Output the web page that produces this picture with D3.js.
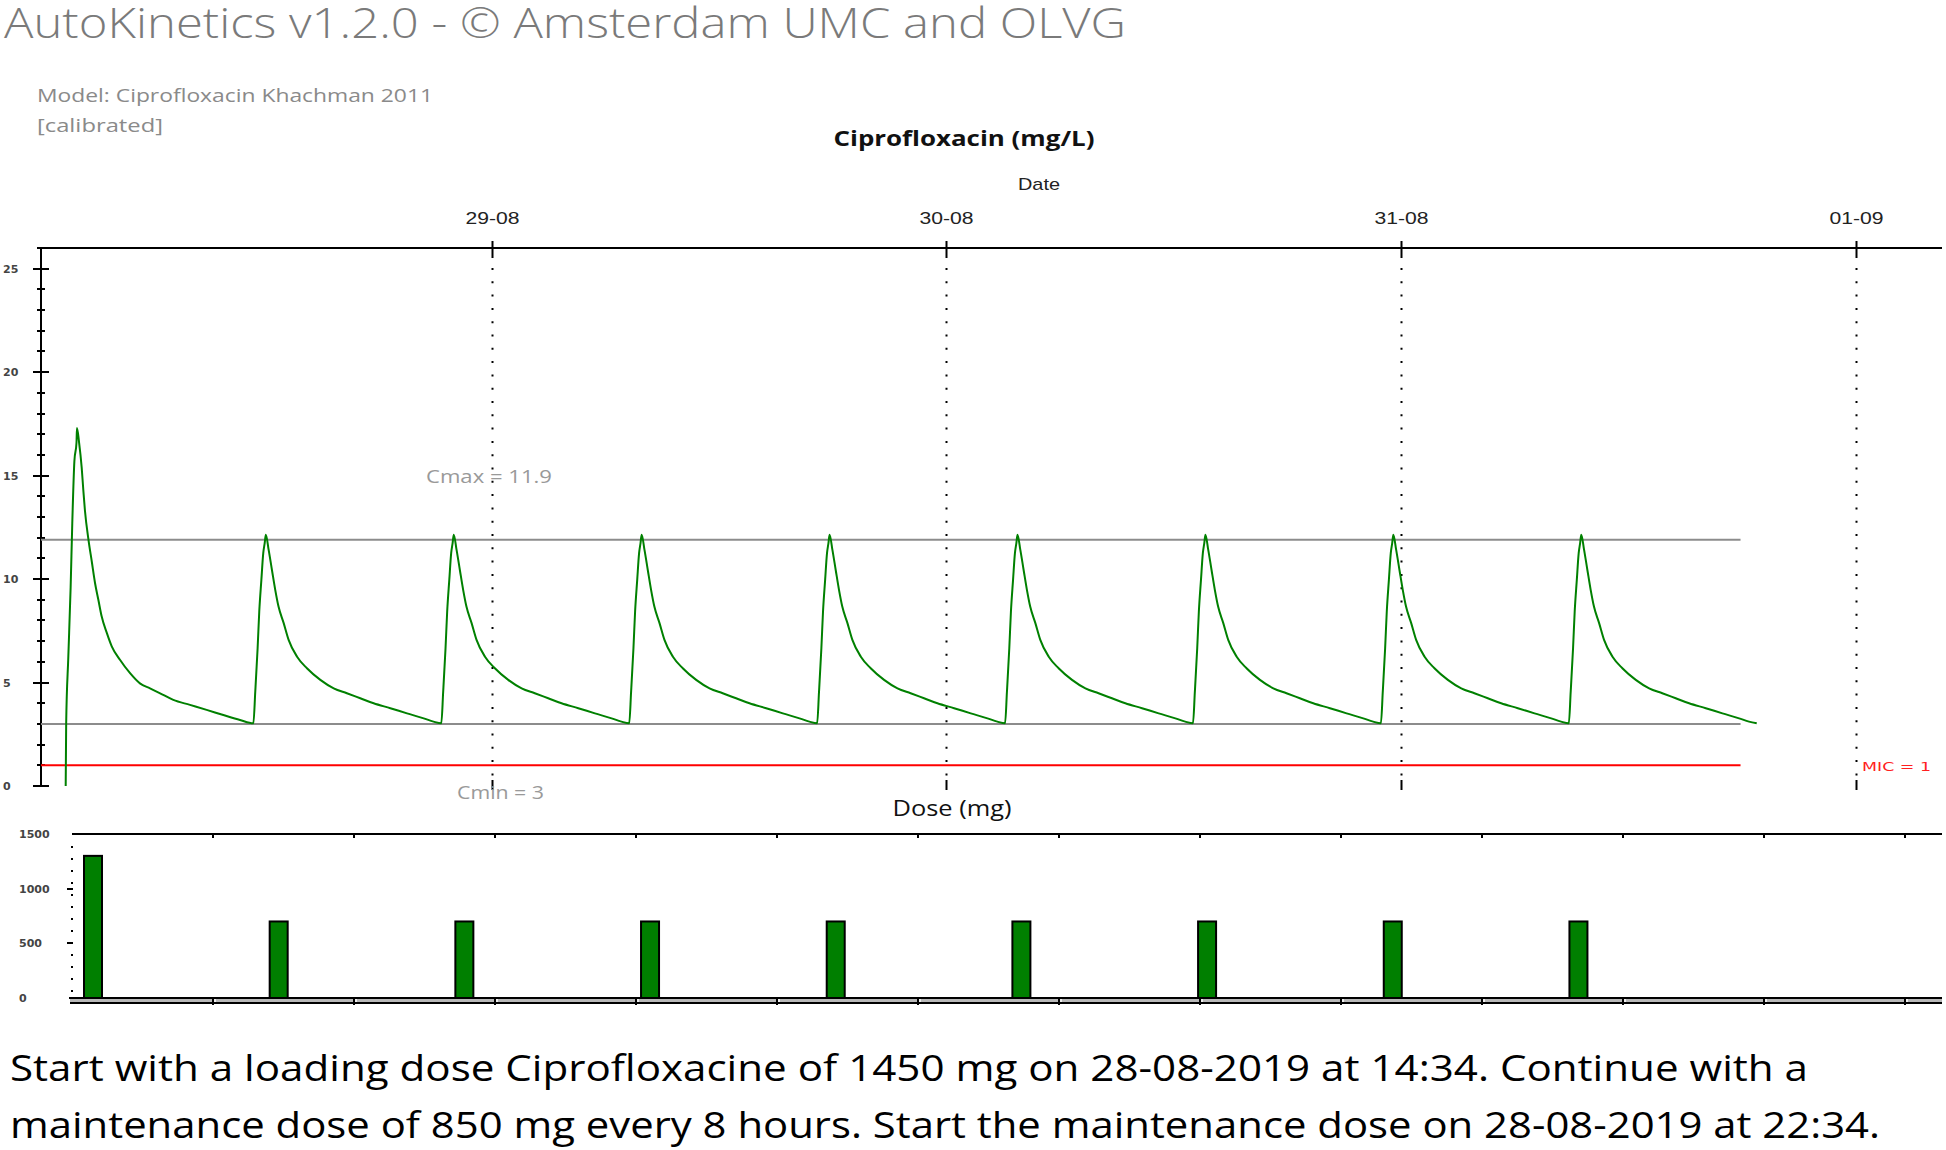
<!DOCTYPE html>
<html>
<head>
<meta charset="utf-8">
<script src="https://cdn.jsdelivr.net/npm/d3@7/dist/d3.min.js"></script>
<style>
  html, body { margin: 0; padding: 0; background: #fff; }
  svg { display: block; }
</style>
</head>
<body>
<svg id="chart" width="1946" height="1150"></svg>
<script>
// ---------------- DATA ----------------
// Dose administration times (hours after the loading dose) and amounts (mg, bar heights as drawn)
const doseHours = [0, 8, 16, 24, 32, 40, 48, 56, 64];
const doseAmounts = [1300, 700, 700, 700, 700, 700, 700, 700, 700];

// Loading-dose concentration profile: hours after dose start, mg/L
const loadingHours = [0, 0.02, 0.11, 0.21, 0.28, 0.37, 0.46, 0.48, 0.57, 0.68, 0.75, 0.82, 0.97, 1.11, 1.25, 1.39, 1.53, 1.75, 1.96, 2.31, 2.74, 3.16, 3.59, 4.02, 4.58, 5.29, 6.00, 6.71, 7.42, 7.99];
const loadingConc  = [0, 3.0, 6.2, 9.6, 12.7, 15.7, 16.6, 17.3, 16.6, 15.4, 14.3, 13.3, 11.9, 10.85, 9.8, 9.0, 8.2, 7.4, 6.75, 6.1, 5.45, 4.96, 4.72, 4.48, 4.16, 3.92, 3.68, 3.43, 3.19, 3.03];

// Maintenance-dose concentration profile (one 8 h interval, identical in the picture for every dose)
const maintHours = [0, 0.07, 0.17, 0.24, 0.33, 0.41, 0.47, 0.52, 0.64, 0.78, 0.92, 1.06, 1.28, 1.49, 1.85, 2.27, 2.84, 3.41, 3.97, 4.54, 5.11, 5.82, 6.53, 7.24, 7.66, 7.99];
const maintConc  = [3.03, 4.56, 6.66, 8.43, 9.96, 11.25, 11.73, 12.14, 11.41, 10.44, 9.48, 8.67, 7.87, 7.06, 6.25, 5.69, 5.13, 4.72, 4.48, 4.24, 4.0, 3.76, 3.51, 3.27, 3.11, 3.03];

// Reference levels (mg/L)
const cmax = 11.9;
const cmin = 3;
const mic = 1;

// Date axis tick labels and their positions on the time axis (hours), as drawn
const dateTickLabels = ["29-08", "30-08", "31-08", "01-09"];
const dateTickHours  = [18.13, 37.47, 56.85, 76.22];

// Concentration axis ticks
const concMajorTicks = [0, 5, 10, 15, 20, 25];
const concMinorTicks = d3.range(0, 26, 1);
// Dose axis ticks
const doseTickLabels = [0, 500, 1000, 1500];

// Texts
const titleText = "AutoKinetics v1.2.0 - \u00A9 Amsterdam UMC and OLVG";
const modelText = ["Model: Ciprofloxacin Khachman 2011", "[calibrated]"];
const concTitle = "Ciprofloxacin (mg/L)";
const dateTitle = "Date";
const doseTitle = "Dose (mg)";
const adviceLines = [
  "Start with a loading dose Ciprofloxacine of 1450 mg on 28-08-2019 at 14:34. Continue with a",
  "maintenance dose of 850 mg every 8 hours. Start the maintenance dose on 28-08-2019 at 22:34."
];

// ---------------- LAYOUT ----------------
const svg = d3.select("#chart");

const upper = { left: 41, right: 1942, top: 248, bottom: 786, lineEndHour: 71.3 };
const lower = { left: 72, right: 1942, top: 834, bottom: 998 };

// Upper time scale (hours after first dose)
const xU = d3.scaleLinear().domain([0, 72]).range([65.7, 65.7 + 23.49 * 72]);
const yU = d3.scaleLinear().domain([0, 26]).range([upper.bottom, upper.top]);

// Lower time scale
const xL = d3.scaleLinear().domain([0, 64]).range([93, 93 + 23.21 * 64]);
const yL = d3.scaleLinear().domain([0, 1500]).range([lower.bottom, lower.top]);

function fit(sel, width) {
  sel.attr("textLength", width).attr("lengthAdjust", "spacingAndGlyphs");
  return sel;
}

// ---------------- TITLES ----------------
fit(svg.append("text").attr("x", 4).attr("y", 38)
  .attr("font-family", "'Open Sans', 'Noto Sans', sans-serif").attr("font-weight", 300)
  .attr("font-size", 42).attr("fill", "#7a7a7a").text(titleText), 1122);

fit(svg.append("text").attr("x", 37).attr("y", 102)
  .attr("font-family", "'Open Sans', sans-serif").attr("font-size", 18)
  .attr("fill", "#8a8a8a").text(modelText[0]), 396);
fit(svg.append("text").attr("x", 37).attr("y", 132)
  .attr("font-family", "'Open Sans', sans-serif").attr("font-size", 18)
  .attr("fill", "#8a8a8a").text(modelText[1]), 126);

fit(svg.append("text").attr("x", 964).attr("y", 146).attr("text-anchor", "middle")
  .attr("font-family", "'Open Sans', sans-serif").attr("font-weight", 700)
  .attr("font-size", 22).attr("fill", "#111").text(concTitle), 261);

fit(svg.append("text").attr("x", 1039).attr("y", 190).attr("text-anchor", "middle")
  .attr("font-family", "'Liberation Sans', Arial, sans-serif").attr("font-size", 17)
  .attr("fill", "#222").text(dateTitle), 42);

// ---------------- UPPER CHART ----------------
const gU = svg.append("g");

// top date axis line
gU.append("line").attr("x1", 37).attr("x2", upper.right)
  .attr("y1", upper.top).attr("y2", upper.top)
  .attr("stroke", "#000").attr("stroke-width", 2);

// date ticks, labels, dotted grid
dateTickHours.forEach((h, i) => {
  const x = Math.round(xU(h)) + 0.5;
  gU.append("line").attr("x1", x).attr("x2", x).attr("y1", upper.top - 7).attr("y2", upper.top + 10)
    .attr("stroke", "#000").attr("stroke-width", 2);
  gU.append("line").attr("x1", x).attr("x2", x).attr("y1", upper.top + 20).attr("y2", upper.bottom - 8)
    .attr("stroke", "#000").attr("stroke-width", 2).attr("stroke-dasharray", "2,11.3");
  gU.append("line").attr("x1", x).attr("x2", x).attr("y1", upper.bottom - 6).attr("y2", upper.bottom + 4)
    .attr("stroke", "#000").attr("stroke-width", 2);
  fit(gU.append("text").attr("x", x).attr("y", 224).attr("text-anchor", "middle")
    .attr("font-family", "'Liberation Sans', Arial, sans-serif").attr("font-size", 17)
    .attr("fill", "#222").text(dateTickLabels[i]), 54);
});

// left concentration axis
gU.append("line").attr("x1", upper.left).attr("x2", upper.left)
  .attr("y1", upper.top).attr("y2", yU(0))
  .attr("stroke", "#000").attr("stroke-width", 2);
concMinorTicks.forEach(v => {
  const major = concMajorTicks.includes(v);
  const y = Math.round(yU(v));
  gU.append("line").attr("x1", upper.left - (major ? 8 : 4)).attr("x2", upper.left + (major ? 8 : 4))
    .attr("y1", y).attr("y2", y).attr("stroke", "#000").attr("stroke-width", 2);
});
concMajorTicks.forEach(v => {
  gU.append("text").attr("x", 3).attr("y", yU(v) + 4)
    .attr("font-family", "'DejaVu Sans', sans-serif").attr("font-size", 11).attr("font-weight", 700)
    .attr("fill", "#444").text(v);
});

// reference lines
const refLine = (v, color) => gU.append("line")
  .attr("x1", upper.left).attr("x2", xU(upper.lineEndHour))
  .attr("y1", yU(v)).attr("y2", yU(v))
  .attr("stroke", color).attr("stroke-width", 2);
refLine(cmax, "#8c8c8c");
refLine(cmin, "#8c8c8c");
refLine(mic, "#ff0000");

// concentration curve
const curvePts = [];
doseHours.forEach((t, i) => {
  const hrs = i === 0 ? loadingHours : maintHours;
  const cs = i === 0 ? loadingConc : maintConc;
  hrs.forEach((h, j) => {
    if (i > 0 && j === 0) return;
    curvePts.push([t + h, cs[j]]);
  });
});
gU.append("path").datum(curvePts)
  .attr("fill", "none").attr("stroke", "#008000").attr("stroke-width", 2)
  .attr("stroke-linejoin", "round")
  .attr("d", d3.line().curve(d3.curveMonotoneX).x(d => xU(d[0])).y(d => yU(d[1])));

// labels
fit(gU.append("text").attr("x", 426).attr("y", 483)
  .attr("font-family", "'Open Sans', sans-serif").attr("font-size", 18)
  .attr("fill", "#999").text("Cmax = " + cmax), 126);
fit(gU.append("text").attr("x", 457).attr("y", 799)
  .attr("font-family", "'Open Sans', sans-serif").attr("font-size", 18)
  .attr("fill", "#999").text("Cmin = " + cmin), 87);
fit(gU.append("text").attr("x", 1862).attr("y", 771)
  .attr("font-family", "'DejaVu Sans', sans-serif").attr("font-size", 13)
  .attr("fill", "#ff2020").text("MIC = " + mic), 69);

fit(svg.append("text").attr("x", 952).attr("y", 816).attr("text-anchor", "middle")
  .attr("font-family", "'Open Sans', sans-serif").attr("font-size", 22)
  .attr("fill", "#111").text(doseTitle), 119);

// ---------------- LOWER CHART ----------------
const gL = svg.append("g");
const lowerTickStart = -0.922, lowerTickStep = 6.075;
const lowerTicks = d3.range(lowerTickStart, 81, lowerTickStep);

// top line with small ticks
gL.append("line").attr("x1", lower.left).attr("x2", lower.right)
  .attr("y1", lower.top).attr("y2", lower.top)
  .attr("stroke", "#000").attr("stroke-width", 2);
lowerTicks.slice(1).forEach(h => {
  const x = Math.round(xL(h));
  gL.append("line").attr("x1", x).attr("x2", x).attr("y1", lower.top).attr("y2", lower.top + 4)
    .attr("stroke", "#000").attr("stroke-width", 2);
});

// left dotted axis
gL.append("line").attr("x1", lower.left).attr("x2", lower.left)
  .attr("y1", lower.top + 12).attr("y2", lower.bottom)
  .attr("stroke", "#000").attr("stroke-width", 2).attr("stroke-dasharray", "2,10");
doseTickLabels.forEach(v => {
  const y = Math.round(yL(v));
  if (v > 0 && v < 1500) {
    gL.append("line").attr("x1", lower.left - 5).attr("x2", lower.left + 1)
      .attr("y1", y).attr("y2", y).attr("stroke", "#000").attr("stroke-width", 2);
  }
  gL.append("text").attr("x", 19).attr("y", y + 4)
    .attr("font-family", "'DejaVu Sans', sans-serif").attr("font-size", 11).attr("font-weight", 700)
    .attr("fill", "#444").text(v);
});

// bars
const barW = 18;
gL.selectAll("rect.dose").data(doseHours).enter().append("rect")
  .attr("class", "dose")
  .attr("x", (d) => xL(d) - barW / 2)
  .attr("y", (d, i) => yL(doseAmounts[i]))
  .attr("width", barW)
  .attr("height", (d, i) => yL(0) - yL(doseAmounts[i]))
  .attr("fill", "#007f00").attr("stroke", "#000").attr("stroke-width", 2);

// bottom axis (3D style base)
gL.append("line").attr("x1", lower.left - 3).attr("x2", lower.right)
  .attr("y1", lower.bottom).attr("y2", lower.bottom)
  .attr("stroke", "#000").attr("stroke-width", 2);
gL.append("line").attr("x1", lower.left - 2).attr("x2", lower.right)
  .attr("y1", lower.bottom + 2.5).attr("y2", lower.bottom + 2.5)
  .attr("stroke", "#b8b8b8").attr("stroke-width", 3);
gL.append("line").attr("x1", lower.left - 2).attr("x2", lower.right)
  .attr("y1", lower.bottom + 5).attr("y2", lower.bottom + 5)
  .attr("stroke", "#000").attr("stroke-width", 2);
lowerTicks.slice(1).forEach(h => {
  const x = Math.round(xL(h));
  gL.append("line").attr("x1", x).attr("x2", x).attr("y1", lower.bottom - 1).attr("y2", lower.bottom + 7)
    .attr("stroke", "#000").attr("stroke-width", 2);
  gL.append("line").attr("x1", x + 2).attr("x2", x + 2).attr("y1", lower.bottom + 1).attr("y2", lower.bottom + 4)
    .attr("stroke", "#fff").attr("stroke-width", 1.5);
});

// ---------------- ADVICE TEXT ----------------
const adviceWidths = [1798, 1870];
const adviceY = [1081, 1138];
adviceLines.forEach((t, i) => {
  fit(svg.append("text").attr("x", 10).attr("y", adviceY[i])
    .attr("font-family", "'Open Sans', 'Noto Sans', sans-serif")
    .attr("font-size", 37).attr("fill", "#000").text(t), adviceWidths[i]);
});
</script>
</body>
</html>
